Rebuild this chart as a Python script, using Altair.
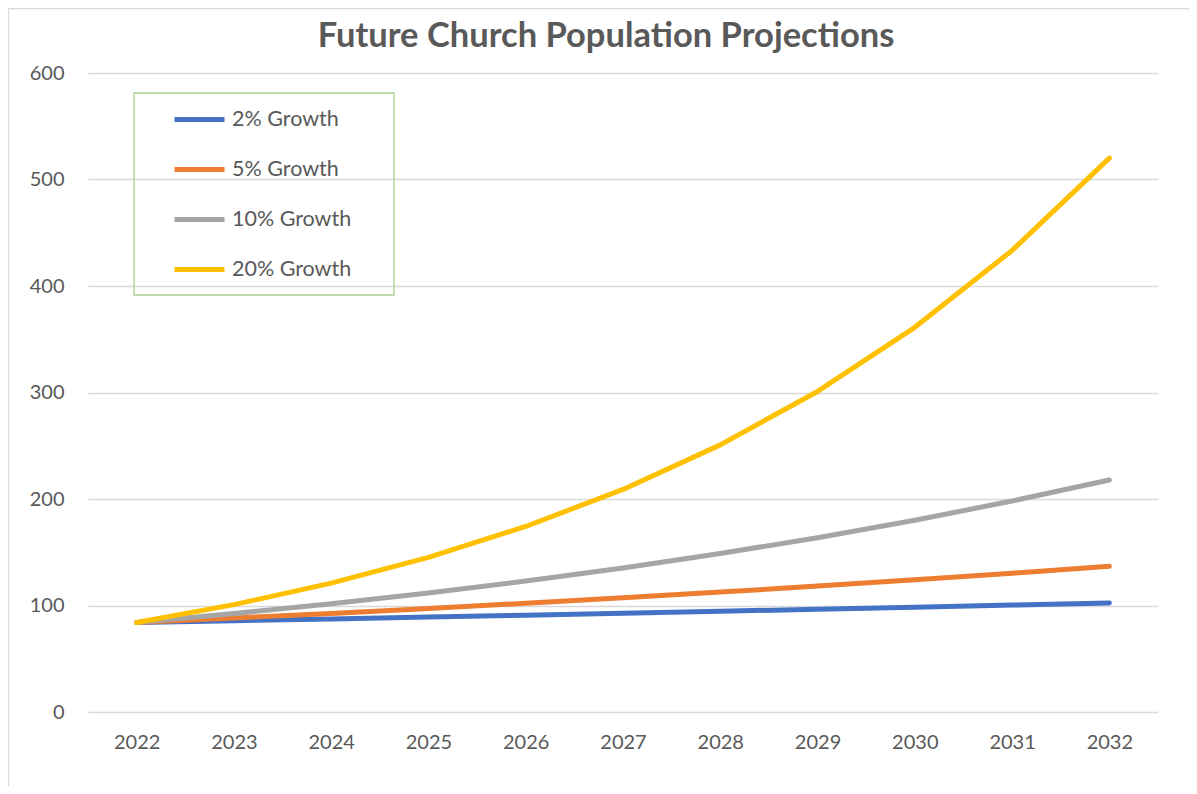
import altair as alt
import pandas as pd

years = ["2022", "2023", "2024", "2025", "2026", "2027", "2028", "2029", "2030", "2031", "2032"]
growth_2 = [84, 85.7, 87.4, 89.1, 90.9, 92.7, 94.6, 96.5, 98.4, 100.4, 102.4]
growth_5 = [84, 88.2, 92.6, 97.2, 102.1, 107.2, 112.6, 118.2, 124.1, 130.3, 136.8]
growth_10 = [84, 92.4, 101.6, 111.8, 123.0, 135.3, 148.8, 163.7, 180.1, 198.1, 217.9]
growth_20 = [84, 100.8, 121.0, 145.2, 174.2, 209.0, 250.8, 301.0, 361.2, 433.4, 520.1]
series_names = ["2% Growth", "5% Growth", "10% Growth", "20% Growth"]
series_colors = ["#4472C4", "#ED7D31", "#A5A5A5", "#FFC000"]
y_ticks = [0, 100, 200, 300, 400, 500, 600]
title_text = "Future Church Population Projections"

rows = []
for name, vals in zip(series_names, [growth_2, growth_5, growth_10, growth_20]):
    for yr, v in zip(years, vals):
        rows.append({"Year": yr, "Value": v, "Series": name})
df = pd.DataFrame(rows)

FONT = "Lato"
TXT = "#595959"
W, H = 1070, 639

lines = alt.Chart(df).mark_line(strokeWidth=5, strokeCap="round", strokeJoin="round").encode(
    x=alt.X("Year:O", sort=years,
            scale=alt.Scale(type="point", padding=0.5),
            axis=alt.Axis(title=None, labelAngle=0, ticks=False, domain=False, grid=False,
                          labelFont=FONT, labelFontSize=20, labelColor=TXT, labelPadding=20)),
    y=alt.Y("Value:Q", scale=alt.Scale(domain=[0, 600], nice=False),
            axis=alt.Axis(title=None, values=y_ticks, ticks=False, domain=False,
                          gridColor="#D9D9D9", gridWidth=1.3,
                          labelFont=FONT, labelFontSize=20, labelColor=TXT, labelPadding=24)),
    color=alt.Color("Series:N", sort=series_names,
                    scale=alt.Scale(domain=series_names, range=series_colors),
                    legend=alt.Legend(title=None, orient="none", legendX=84, legendY=19,
                                      symbolType="stroke", symbolSize=2500, symbolStrokeWidth=5,
                                      rowPadding=12, labelOffset=5, padding=0,
                                      labelFont=FONT, labelFontSize=21.5, labelColor=TXT,
                                      labelLimit=300)),
    order=alt.Order("Year:O"),
)

one = alt.Data(values=[{}])
legend_box = alt.Chart(one).mark_rect(fill=None, stroke="#A9D18E", strokeWidth=1.3).encode(
    x=alt.value(46), x2=alt.value(306), y=alt.value(20), y2=alt.value(222)
)
border_left = alt.Chart(one).mark_rule(color="#D9D9D9", strokeWidth=1.3, clip=False).encode(
    x=alt.value(-79.5), y=alt.value(-64.5), y2=alt.value(H + 80)
)
border_top = alt.Chart(one).mark_rule(color="#D9D9D9", strokeWidth=1.3, clip=False).encode(
    x=alt.value(-79.5), x2=alt.value(W + 40), y=alt.value(-64.5)
)
title = alt.Chart(one).mark_text(
    text=title_text, font=FONT, fontSize=34.5, fontWeight="bold", color=TXT,
    align="center", baseline="middle", clip=False
).encode(x=alt.value(518), y=alt.value(-36))

chart = alt.layer(border_left, border_top, lines, legend_box, title).properties(
    width=W, height=H,
    background="white",
    padding={"left": 80, "top": 65, "right": 31, "bottom": 74},
    autosize=alt.AutoSizeParams(type="none"),
).configure_view(strokeWidth=0, stroke="transparent")

chart.save("out.html", embed_options={"renderer": "svg", "actions": False})
